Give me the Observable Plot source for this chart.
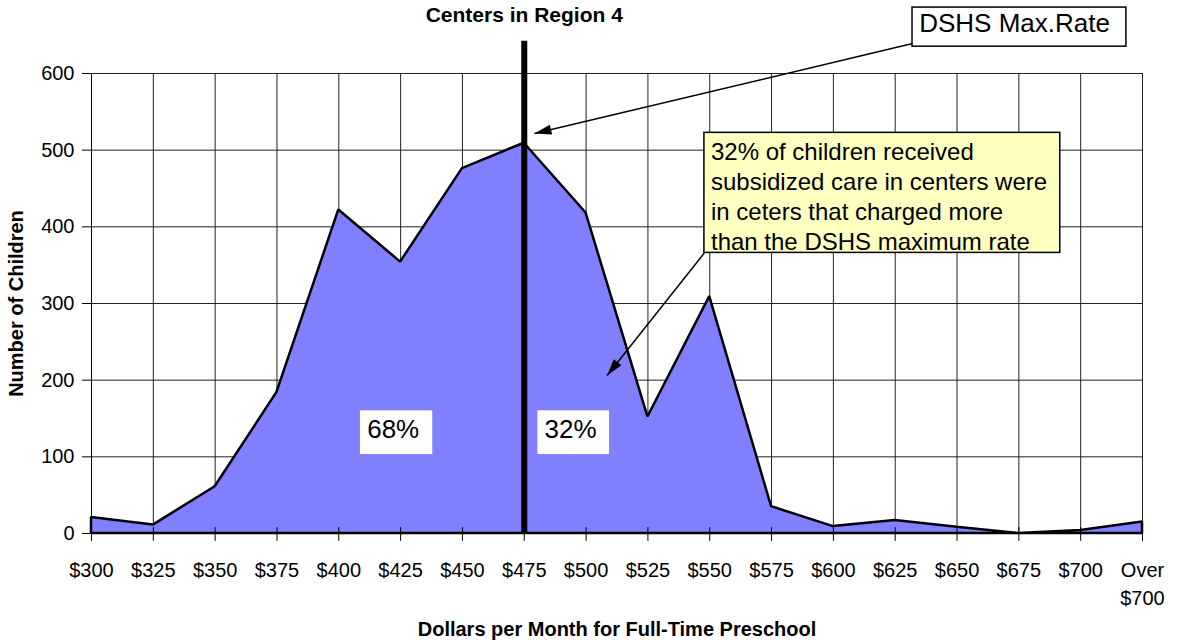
<!DOCTYPE html>
<html><head><meta charset="utf-8">
<script src="https://cdn.jsdelivr.net/npm/d3@7"></script>
<script src="https://cdn.jsdelivr.net/npm/@observablehq/plot@0.6"></script>
<style>body{margin:0;background:#fff;}</style>
</head><body><div id="chart"></div>
<script>
// ---- data ----
const categories = ["$300","$325","$350","$375","$400","$425","$450","$475","$500","$525","$550","$575","$600","$625","$650","$675","$700","Over\n$700"];
const children = [21, 11, 61, 184, 422, 354, 476, 509, 418, 152, 309, 35, 9, 17, 8, 0, 4, 15];
const yTicks = [0, 100, 200, 300, 400, 500, 600];
const maxRateCategory = "$475";
const titleText = "Centers in Region 4";
const xLabel = "Dollars per Month for Full-Time Preschool";
const yLabel = "Number of Children";
const maxRateLabel = "DSHS Max.Rate";
const noteText = "32% of children received\nsubsidized care in centers were\nin ceters that charged more\nthan the DSHS maximum rate";
const shareLabels = ["68%", "32%"];

// ---- layout ----
const W = 1178, H = 640;
const mL = 91, mR = 36, mT = 73, mB = 107;
const idx = categories.map((_, i) => i);
const maxIdx = categories.indexOf(maxRateCategory);
const xs = d3.scaleLinear([0, categories.length - 1], [mL, W - mR]);
const ys = d3.scaleLinear([0, 600], [H - mB, mT]);

// annotation placements (in chart units: category index, children)
const shareBoxes = [
  {text: shareLabels[0], tx: 4.88, ty: 125, x1: 4.35, x2: 5.52, y1: 103, y2: 160},
  {text: shareLabels[1], tx: 7.75, ty: 125, x1: 7.22, x2: 8.38, y1: 103, y2: 160}
];
const maxBox = {text: maxRateLabel, tx: 14.93, ty: 654, x1: 13.28, x2: 16.74, y1: 635, y2: 686};
const noteBox = {text: noteText, tx: 10.02, ty: 440.5, x1: 9.914, x2: 15.67, y1: 366, y2: 522.6};
const arrows = [
  {x1: 13.28, y1: 639, x2: 7.165, y2: 521.7},
  {x1: 9.914, y1: 366, x2: 8.34, y2: 206}
];
const lineTop = 642;

function headSymbol(a) {
  const dx = xs(a.x2) - xs(a.x1), dy = ys(a.y2) - ys(a.y1);
  const len = Math.hypot(dx, dy), ux = dx / len, uy = dy / len;
  const L = 17, Wd = 5;
  return {draw(ctx) {
    const bx = -ux * L, by = -uy * L, px = -uy * Wd, py = ux * Wd;
    ctx.moveTo(0, 0); ctx.lineTo(bx + px, by + py); ctx.lineTo(bx - px, by - py); ctx.closePath();
  }};
}
const tickShape = {draw(ctx, l) { ctx.moveTo(0, 0); ctx.lineTo(0, -l); }};

const rows = children.map((v, i) => ({i, v}));
const font = "Liberation Sans, Arial, Helvetica, sans-serif";

const plot = Plot.plot({
  width: W, height: H,
  marginLeft: mL, marginRight: mR, marginTop: mT, marginBottom: mB,
  x: {type: "linear", domain: [0, categories.length - 1]},
  y: {type: "linear", domain: [0, 600]},
  style: {fontFamily: font, fontSize: "20px", background: "#fff", color: "#000", overflow: "visible"},
  marks: [
    Plot.ruleY(yTicks, {stroke: "#222", strokeWidth: 1}),
    Plot.ruleX(idx, {stroke: "#222", strokeWidth: 1}),
    Plot.areaY(rows, {x: "i", y: "v", fill: "#8080FF", stroke: "#000", strokeWidth: 2.5, strokeLinejoin: "miter"}),
    Plot.vector(idx, {x: d => d, frameAnchor: "bottom", length: 13, anchor: "start", dy: 7, shape: tickShape, stroke: "#000", strokeWidth: 1}),
    Plot.axisX({ticks: idx, tickFormat: i => categories[i], tickSize: 0, tickPadding: 24, lineHeight: 1.38, label: null, fontSize: 20, fill: "#000"}),
    Plot.axisY({ticks: yTicks, tickSize: 9, tickPadding: 8, label: null, fontSize: 20, fill: "#000", stroke: "#000"}),
    Plot.ruleX([0], {stroke: "#000", strokeWidth: 1}),
    Plot.ruleX([maxIdx], {y1: 0, y2: lineTop, stroke: "#000", strokeWidth: 6}),
    // share labels
    Plot.rect(shareBoxes, {x1: "x1", x2: "x2", y1: "y1", y2: "y2", fill: "#fff"}),
    Plot.text(shareBoxes, {x: "tx", y: "ty", text: "text", fontSize: 26, lineAnchor: "bottom", textAnchor: "middle", fill: "#000"}),
    // arrows
    Plot.link(arrows, {x1: "x1", y1: "y1", x2: "x2", y2: "y2", stroke: "#000", strokeWidth: 1.5}),
    ...arrows.map(a => Plot.dot([a], {x: "x2", y: "y2", symbol: headSymbol(a), fill: "#000", stroke: "none", r: 5})),
    // note box
    Plot.rect([noteBox], {x1: "x1", x2: "x2", y1: "y1", y2: "y2", fill: "#FFFFC0", stroke: "#000", strokeWidth: 1.5}),
    Plot.text([noteBox], {x: "tx", y: "ty", text: "text", fontSize: 24, lineHeight: 1.25, lineAnchor: "middle", textAnchor: "start", fill: "#000"}),
    // max-rate box
    Plot.rect([maxBox], {x1: "x1", x2: "x2", y1: "y1", y2: "y2", fill: "#fff", stroke: "#000", strokeWidth: 1.5}),
    Plot.text([maxBox], {x: "tx", y: "ty", text: "text", fontSize: 26, lineAnchor: "bottom", textAnchor: "middle", fill: "#000"}),
    // titles
    Plot.text([titleText], {x: maxIdx, frameAnchor: "top", dy: 21 - mT, lineAnchor: "bottom", textAnchor: "middle", fontSize: 21, fontWeight: "bold", fill: "#000"}),
    Plot.text([xLabel], {frameAnchor: "bottom", dy: 102, lineAnchor: "bottom", textAnchor: "middle", fontSize: 20, fontWeight: "bold", fill: "#000"}),
    Plot.text([yLabel], {frameAnchor: "left", dx: -75, rotate: -90, textAnchor: "middle", lineAnchor: "middle", fontSize: 20, fontWeight: "bold", fill: "#000"})
  ]
});
document.getElementById("chart").appendChild(plot);
</script>
</body></html>
